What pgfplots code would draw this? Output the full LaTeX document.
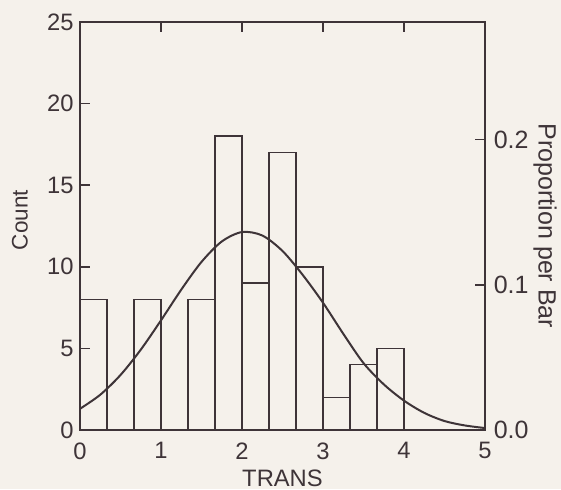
\documentclass[border=0pt]{standalone}
\usepackage{fontspec}
\setmainfont{Liberation Sans}
\usepackage{pgfplots}
\pgfplotsset{compat=1.18}
\usetikzlibrary{calc,backgrounds}

\definecolor{bgc}{RGB}{245,241,235}
\definecolor{lc}{RGB}{62,52,56}

\begin{document}
\begin{tikzpicture}
  % left axis: counts
  \begin{axis}[
    name=ax,
    scale only axis,
    width=162pt, height=163.2pt,
    xmin=0, xmax=5, ymin=0, ymax=25,
    xtick={0,1,2,3,4,5},
    ytick={0,5,10,15,20,25},
    xtick pos=both, ytick pos=left,
    tick align=inside,
    major tick length=4pt,
    axis line style={lc, line width=0.6pt},
    every tick/.style={lc, line width=0.6pt},
    /pgf/number format/assume math mode=true,
    ticklabel style={font=\fontsize{9.5}{11}\selectfont, text=lc},
    xticklabel style={yshift=-1.5pt},
    yticklabel style={xshift=1pt},
    xlabel={TRANS},
    ylabel={Count},
    xlabel style={at={(axis description cs:0.5,0)}, anchor=center, yshift=-19.2pt,
      font=\fontsize{9.5}{11}\selectfont, text=lc},
    ylabel style={at={(axis description cs:0,0.5)}, anchor=center, yshift=24pt, xshift=2.4pt,
      font=\fontsize{9}{11}\selectfont, text=lc},
  ]
    \addplot[ybar interval, draw=lc, fill=none, line width=0.6pt] coordinates {
      (0,8) (0.3333,0) (0.6667,8) (1,0) (1.3333,8) (1.6667,18) (2,9)
      (2.3333,17) (2.6667,10) (3,2) (3.3333,4) (3.6667,5) (4,5)
    };
    \addplot[smooth, no marks, draw=lc, line width=0.8pt] coordinates {
      (0,1.30) (0.25,2.16) (0.5,3.37) (0.75,4.92) (1,6.72) (1.25,8.60)
      (1.5,10.30) (1.75,11.55) (2,12.13) (2.25,11.92) (2.5,10.97)
      (2.75,9.50) (3,7.80) (3.25,5.90) (3.5,4.10) (3.75,2.80) (4,1.80)
      (4.25,1.05) (4.5,0.55) (4.75,0.28) (5,0.12)
    };
  \end{axis}
  % right axis: proportion per bar (89 cases)
  \begin{axis}[
    scale only axis,
    width=162pt, height=163.2pt,
    xmin=0, xmax=5, ymin=0, ymax=0.2809,
    axis x line=none,
    axis y line*=right,
    ytick={0,0.1,0.2},
    yticklabels={0.0,0.1,0.2},
    tick align=inside,
    major tick length=4pt,
    axis line style={lc, line width=0.6pt},
    every tick/.style={lc, line width=0.6pt},
    ticklabel style={font=\fontsize{10}{12}\selectfont, text=lc},
    ylabel={Proportion per Bar},
    ylabel style={at={(axis description cs:1,0.5)}, anchor=center, rotate=180, yshift=24pt,
      font=\fontsize{10}{12}\selectfont, text=lc},
  ]
  \end{axis}
  \pgfresetboundingbox
  \path[use as bounding box] ($(ax.south west)+(-32pt,-23.6pt)$) rectangle ($(ax.north east)+(30.4pt,8.8pt)$);
  \begin{scope}[on background layer]
    \fill[bgc] ($(ax.south west)+(-32pt,-23.6pt)$) rectangle ($(ax.north east)+(30.4pt,8.8pt)$);
  \end{scope}
\end{tikzpicture}
\end{document}
